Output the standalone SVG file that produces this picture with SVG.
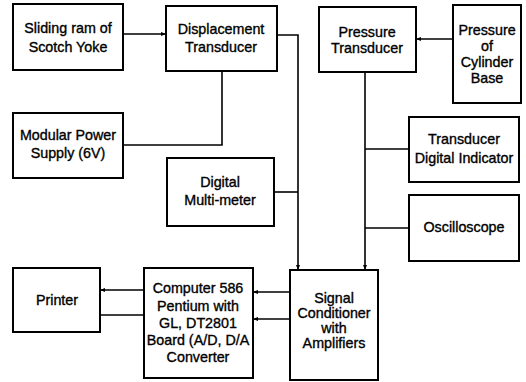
<svg xmlns="http://www.w3.org/2000/svg" width="526" height="382" viewBox="0 0 526 382">
<defs>
<marker id="ah" viewBox="0 0 10 10" refX="10" refY="5" markerWidth="5" markerHeight="5" orient="auto" markerUnits="userSpaceOnUse">
<path d="M0,1 L10,5 L0,9 z" fill="#000"/>
</marker>
<style>
.box{fill:#fff;stroke:#000;stroke-width:2}
.t{font-family:"Liberation Sans",Arial,sans-serif;font-size:14.3px;fill:#000;text-anchor:middle;stroke:#000;stroke-width:0.35}
.c{fill:none;stroke:#000;stroke-width:1.6}
</style>
</defs>
<rect width="526" height="382" fill="#fff"/>
<g id="connectors">
<path class="c" d="M123,34 H166" marker-end="url(#ah)"/>
<path class="c" d="M222,71 V145 H123"/>
<path class="c" d="M277,35 H298 V270" marker-end="url(#ah)"/>
<path class="c" d="M274,192 H298"/>
<path class="c" d="M453,39 H416" marker-end="url(#ah)"/>
<path class="c" d="M365,72 V270" marker-end="url(#ah)"/>
<path class="c" d="M365,149 H409"/>
<path class="c" d="M365,228 H409"/>
<path class="c" d="M290,292 H253" marker-end="url(#ah)"/>
<path class="c" d="M290,319 H253" marker-end="url(#ah)"/>
<path class="c" d="M144,290 H100" marker-end="url(#ah)"/>
<path class="c" d="M100,315 H144"/>
</g>
<g id="sliding-ram">
<rect class="box" x="13" y="4" width="110" height="66"/>
<text class="t" x="68" y="33">Sliding ram of</text>
<text class="t" x="68" y="52">Scotch Yoke</text>
</g>
<g id="displacement-transducer">
<rect class="box" x="166" y="6" width="111" height="65"/>
<text class="t" x="221" y="34">Displacement</text>
<text class="t" x="221" y="52">Transducer</text>
</g>
<g id="pressure-transducer">
<rect class="box" x="319" y="7" width="97" height="65"/>
<text class="t" x="367" y="37">Pressure</text>
<text class="t" x="367" y="53">Transducer</text>
</g>
<g id="pressure-cylinder">
<rect class="box" x="453" y="5" width="68" height="98"/>
<text class="t" x="487" y="35">Pressure</text>
<text class="t" x="487" y="51">of</text>
<text class="t" x="487" y="67">Cylinder</text>
<text class="t" x="487" y="83">Base</text>
</g>
<g id="power-supply">
<rect class="box" x="13" y="113" width="110" height="65"/>
<text class="t" x="68" y="140">Modular Power</text>
<text class="t" x="68" y="158">Supply (6V)</text>
</g>
<g id="multimeter">
<rect class="box" x="167" y="158" width="107" height="68"/>
<text class="t" x="220" y="187">Digital</text>
<text class="t" x="220" y="205">Multi-meter</text>
</g>
<g id="digital-indicator">
<rect class="box" x="409" y="117" width="110" height="65"/>
<text class="t" x="464" y="144">Transducer</text>
<text class="t" x="464" y="163">Digital Indicator</text>
</g>
<g id="oscilloscope">
<rect class="box" x="409" y="195" width="110" height="66"/>
<text class="t" x="464" y="232">Oscilloscope</text>
</g>
<g id="printer">
<rect class="box" x="13" y="268" width="87" height="64"/>
<text class="t" x="57" y="305">Printer</text>
</g>
<g id="computer">
<rect class="box" x="144" y="268" width="109" height="110"/>
<text class="t" x="198" y="293">Computer 586</text>
<text class="t" x="198" y="311">Pentium with</text>
<text class="t" x="198" y="328">GL, DT2801</text>
<text class="t" x="198" y="345">Board (A/D, D/A</text>
<text class="t" x="198" y="362">Converter</text>
</g>
<g id="signal-conditioner">
<rect class="box" x="290" y="270" width="88" height="110"/>
<text class="t" x="334" y="303">Signal</text>
<text class="t" x="334" y="318">Conditioner</text>
<text class="t" x="334" y="333">with</text>
<text class="t" x="334" y="348">Amplifiers</text>
</g>
</svg>
